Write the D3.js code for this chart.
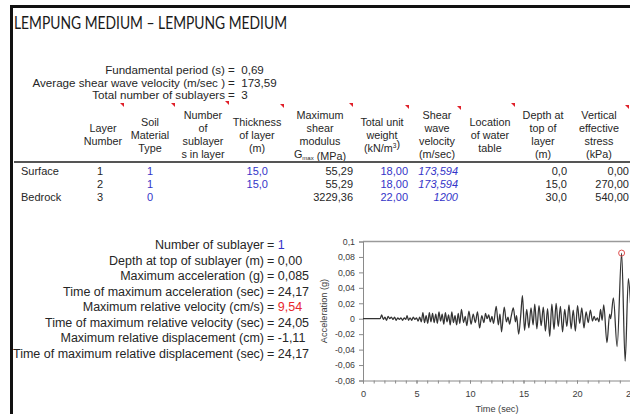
<!DOCTYPE html>
<html>
<head>
<meta charset="utf-8">
<script src="https://cdn.jsdelivr.net/npm/d3@7"></script>
<style>
  body { margin: 0; background: #fff; }
  svg { display: block; font-family: "Liberation Sans", Arial, sans-serif; }
</style>
</head>
<body>
<svg id="sheet" width="630" height="414"></svg>
<script>
// ---- sheet values ----
const title = 'LEMPUNG MEDIUM \u2013 LEMPUNG MEDIUM';

const summaryLabels = ['Fundamental period (s)', 'Average shear wave velocity (m/sec )', 'Total number of  sublayers'];
const summaryValues = ['0,69', '173,59', '3'];

// "_x_" = subscript, "^x^" = superscript
const headers = [
  ['Layer', 'Number'],
  ['Soil', 'Material', 'Type'],
  ['Number', 'of', 'sublayer', 's in layer'],
  ['Thickness', 'of layer', '(m)'],
  ['Maximum', 'shear', 'modulus', 'G_max_ (MPa)'],
  ['Total unit', 'weight', '(kN/m^3^)'],
  ['Shear', 'wave', 'velocity', '(m/sec)'],
  ['Location', 'of water', 'table'],
  ['Depth at', 'top of', 'layer', '(m)'],
  ['Vertical', 'effective', 'stress', '(kPa)'],
];

const rowLabels = ['Surface', '', 'Bedrock'];
const layerNumber = [1, 2, 3];
const soilType = [1, 1, 0];
const thickness = [15, 15, null];
const gmax = [55.29, 55.29, 3229.36];
const unitWeight = [18, 18, 22];
const shearVelocity = [173.594, 173.594, 1200];
const depthTop = [0, 15, 30];
const verticalStress = [0, 270, 540];

const sublayerLabels = [
  'Number of sublayer',
  'Depth at top of sublayer (m)',
  'Maximum acceleration (g)',
  'Time of maximum acceleration (sec)',
  'Maximum relative velocity (cm/s)',
  'Time of maximum relative velocity (sec)',
  'Maximum relative displacement (cm)',
  'Time of maximum relative displacement (sec)',
];
const sublayerValues = ['1', '0,00', '0,085', '24,17', '9,54', '24,05', '-1,11', '24,17'];

// acceleration time history (sec, g)
const timeSec = [
  0, 1.6, 1.75, 1.9, 2.05, 2.2, 2.35, 2.5, 2.65, 2.8, 2.95, 3.1, 3.25, 3.4, 3.55, 3.7, 3.85, 4.0, 4.12, 4.25,
  4.4, 4.55, 4.7, 4.85, 5.0, 5.15, 5.3, 5.45, 5.6, 5.75, 5.9, 6.05, 6.2, 6.35, 6.5, 6.65, 6.8, 6.95, 7.1, 7.25,
  7.4, 7.55, 7.7, 7.85, 8.0, 8.15, 8.3, 8.45, 8.6, 8.75, 8.9, 9.05, 9.2, 9.4, 9.55, 9.7, 9.9, 10.1, 10.3, 10.5,
  10.7, 10.9, 11.1, 11.3, 11.45, 11.6, 11.75, 11.9, 12.05, 12.2, 12.45, 12.65, 12.8, 12.95, 13.2, 13.4, 13.55, 13.7, 13.85, 14.05,
  14.25, 14.35, 14.55, 14.75, 14.9, 15.1, 15.3, 15.5, 15.7, 15.9, 16.05, 16.25, 16.45, 16.65, 16.85, 17.05, 17.25, 17.45, 17.65, 17.85,
  18.05, 18.25, 18.45, 18.65, 18.85, 19.05, 19.25, 19.45, 19.65, 19.85, 20.05, 20.25, 20.45, 20.65, 20.85, 21.05, 21.25, 21.45, 21.6, 21.75,
  21.9, 22.05, 22.2, 22.35, 22.5, 22.8, 23.05, 23.15, 23.4, 23.75, 24.17, 24.5, 24.8, 25.0,
];
const accelG = [
  0, 0, 0.005, -0.001, 0.002, -0.002, 0.003, 0.000, 0.002, -0.001, 0.002, -0.002, 0.001, -0.001, 0.001, -0.002, 0.001, -0.001, 0.004, -0.002,
  0.001, -0.002, 0.002, -0.001, 0.001, -0.003, 0.002, -0.004, 0.008, -0.005, 0.004, -0.006, 0.008, -0.004, 0.007, -0.005, 0.006, -0.006, 0.009, -0.003,
  0.006, -0.007, 0.008, -0.004, 0.005, -0.008, 0.009, -0.005, 0.004, -0.008, 0.007, -0.006, 0.012, -0.005, 0.003, -0.009, 0.010, -0.007, 0.006, -0.005,
  0.009, -0.012, 0.004, -0.005, 0.007, 0.000, 0.005, -0.004, 0.003, -0.006, 0.016, -0.008, 0.006, -0.017, 0.015, -0.004, 0.002, -0.007, 0.003, 0.014,
  -0.004, 0.004, -0.020, 0.006, 0.030, -0.015, 0.012, -0.012, 0.014, -0.008, 0.019, -0.013, 0.017, -0.009, 0.015, -0.016, 0.013, -0.023, 0.019, -0.014,
  0.020, -0.010, 0.016, -0.017, 0.012, -0.010, 0.018, -0.013, 0.011, -0.016, 0.017, -0.006, 0.014, -0.012, 0.009, -0.005, 0.011, -0.003, 0.003, -0.002,
  0.001, -0.004, 0.012, -0.002, 0.018, -0.031, 0.006, 0.000, 0.027, -0.036, 0.085, -0.055, 0.052, 0.020,
];

const yTicks = [-0.08, -0.06, -0.04, -0.02, 0, 0.02, 0.04, 0.06, 0.08, 0.1];
const xTicks = [0, 5, 10, 15, 20, 25];
const xMinorTicks = d3.range(0, 26);

// ---- layout ----
const blue = '#3434c8';
const ink = '#262626';
const comma = (v, d) => v.toFixed(d).replace('.', ',');

const svg = d3.select('#sheet');

svg.append('rect').attr('width', 630).attr('height', 414).attr('fill', '#fff');

// frame
svg.append('path')
  .attr('d', 'M11.5,414 V6.5 H630')
  .attr('fill', 'none')
  .attr('stroke', '#111')
  .attr('stroke-width', 3);

svg.append('text')
  .attr('x', 14)
  .attr('y', 29)
  .attr('font-family', 'Lato, "Open Sans", sans-serif')
  .attr('font-size', 17.5)
  .attr('fill', '#1a1a1a')
  .attr('textLength', 273)
  .attr('lengthAdjust', 'spacingAndGlyphs')
  .text(title);

// summary lines
const summary = svg.append('g').attr('font-size', 11.6).attr('fill', ink);
summaryLabels.forEach((lab, i) => {
  const yy = 74 + i * 12.5;
  summary.append('text').attr('x', 225).attr('y', yy).attr('text-anchor', 'end').text(lab);
  summary.append('text').attr('x', 228).attr('y', yy).attr('xml:space', 'preserve').text(`=  ${summaryValues[i]}`);
});

// header cells
const colCenters = [103, 150, 203, 257, 320, 382, 437, 490, 543, 599];
const head = svg.append('g').attr('font-size', 10.8).attr('fill', ink).attr('text-anchor', 'middle');
headers.forEach((lines, c) => {
  const y0 = 134.5 - (lines.length - 1) * 13 / 2 + 4;
  lines.forEach((ln, k) => {
    const t = head.append('text').attr('x', colCenters[c]).attr('y', y0 + k * 13);
    ln.split(/(_[^_]+_|\^[^^]+\^)/).filter((s) => s).forEach((part) => {
      if (part[0] === '_') {
        t.append('tspan').attr('font-size', 6).attr('dy', 1.5).text(part.slice(1, -1));
        t.append('tspan').attr('dy', -1.5).text('');
      } else if (part[0] === '^') {
        t.append('tspan').attr('font-size', 6.5).attr('dy', -4).text(part.slice(1, -1));
        t.append('tspan').attr('dy', 4).text('');
      } else {
        t.append('tspan').text(part);
      }
    });
  });
});

// comment markers
const cornerMarks = [[123, 104], [174, 104], [228, 102], [283, 105], [352, 104], [408, 106], [460, 107], [514, 104], [628, 106]];
svg.append('g').selectAll('path')
  .data(cornerMarks)
  .join('path')
  .attr('d', (d) => `M${d[0] - 3},${d[1] - 1} L${d[0] + 1},${d[1] - 1} L${d[0] + 1},${d[1] + 3} Z`)
  .attr('fill', '#e0202a');

// header rule
svg.append('line').attr('x1', 14).attr('x2', 630).attr('y1', 162).attr('y2', 162)
  .attr('stroke', '#555').attr('stroke-width', 2);

// body rows
const rowY = (i) => 175 + i * 13;
const cols = [
  { x: 21, anchor: 'start', vals: rowLabels, f: (v) => v },
  { x: 100, anchor: 'middle', vals: layerNumber, f: (v) => v },
  { x: 150, anchor: 'middle', vals: soilType, f: (v) => v, color: blue },
  { x: 268, anchor: 'end', vals: thickness, f: (v) => (v == null ? '' : comma(v, 1)), color: blue },
  { x: 353, anchor: 'end', vals: gmax, f: (v) => comma(v, 2) },
  { x: 408, anchor: 'end', vals: unitWeight, f: (v) => comma(v, 2), color: blue },
  { x: 458, anchor: 'end', vals: shearVelocity, f: (v) => (Number.isInteger(v) ? String(v) : comma(v, 3)), color: blue, italic: true },
  { x: 567, anchor: 'end', vals: depthTop, f: (v) => comma(v, 1) },
  { x: 629, anchor: 'end', vals: verticalStress, f: (v) => comma(v, 2) },
];
const body = svg.append('g').attr('font-size', 11);
cols.forEach((c) => {
  body.append('g')
    .attr('text-anchor', c.anchor)
    .attr('fill', c.color || ink)
    .attr('font-style', c.italic ? 'italic' : null)
    .selectAll('text')
    .data(c.vals)
    .join('text')
    .attr('x', c.x)
    .attr('y', (d, i) => rowY(i))
    .text(c.f);
});

// sublayer block
const valueColors = { 0: blue, 4: '#e8282e' };
const sub = svg.append('g').attr('font-size', 12.5).attr('fill', ink);
sublayerLabels.forEach((lab, i) => {
  const yy = 249 + i * 15.5;
  sub.append('text').attr('x', 264).attr('y', yy).attr('text-anchor', 'end').text(lab);
  const t = sub.append('text').attr('x', 267).attr('y', yy).attr('xml:space', 'preserve');
  t.append('tspan').text('= ');
  t.append('tspan').attr('fill', valueColors[i] || ink).text(sublayerValues[i]);
});

// ---- acceleration chart ----
const x = d3.scaleLinear().domain([0, 25]).range([363, 630.5]);
const y = d3.scaleLinear().domain([-0.08, 0.1]).range([380.5, 241.5]);
const axisColor = '#8a8a8a';
const labelColor = '#3c3c3c';

svg.append('clipPath').attr('id', 'plot')
  .append('rect')
  .attr('x', x(0))
  .attr('y', y(0.1) - 2)
  .attr('width', 630 - x(0))
  .attr('height', y(-0.08) - y(0.1) + 4);

// top border of plot area
svg.append('line')
  .attr('x1', x(0)).attr('x2', 630)
  .attr('y1', y(0.1)).attr('y2', y(0.1))
  .attr('stroke', '#9a9a9a')
  .attr('stroke-width', 1.6);

const yAxis = svg.append('g')
  .attr('transform', `translate(${x(0)},0)`)
  .call(d3.axisLeft(y).tickValues(yTicks).tickSize(4).tickPadding(4)
    .tickFormat((d) => String(+d.toFixed(2)).replace('.', ',')));
yAxis.select('.domain').attr('stroke', axisColor);
yAxis.selectAll('.tick line').attr('stroke', axisColor);
yAxis.selectAll('.tick text')
  .attr('fill', labelColor)
  .attr('font-size', 8.8)
  .attr('font-family', '"Liberation Sans", Arial, sans-serif');

const xMinor = svg.append('g')
  .attr('transform', `translate(0,${y(-0.08)})`)
  .call(d3.axisBottom(x).tickValues(xMinorTicks).tickSize(3).tickFormat(''));
xMinor.select('.domain').remove();
xMinor.selectAll('.tick line').attr('stroke', axisColor);

const xAxis = svg.append('g')
  .attr('transform', `translate(0,${y(-0.08)})`)
  .call(d3.axisBottom(x).tickValues(xTicks).tickSize(3).tickPadding(7).tickSizeOuter(0));
xAxis.select('.domain').attr('stroke', axisColor);
xAxis.selectAll('.tick line').attr('stroke', axisColor);
xAxis.selectAll('.tick text')
  .attr('fill', labelColor)
  .attr('font-size', 9.2)
  .attr('font-family', '"Liberation Sans", Arial, sans-serif');

svg.append('text')
  .attr('x', 497)
  .attr('y', 412)
  .attr('text-anchor', 'middle')
  .attr('font-size', 9.2)
  .attr('fill', labelColor)
  .text('Time (sec)');

svg.append('text')
  .attr('transform', `translate(327,${(y(0.1) + y(-0.08)) / 2}) rotate(-90)`)
  .attr('text-anchor', 'middle')
  .attr('font-size', 9.2)
  .attr('fill', labelColor)
  .text('Acceleration (g)');

const trace = timeSec.map((t, i) => [t, accelG[i]]);
const line = d3.line()
  .x((d) => x(d[0]))
  .y((d) => y(d[1]))
  .curve(d3.curveMonotoneX);

svg.append('path')
  .datum(trace)
  .attr('clip-path', 'url(#plot)')
  .attr('d', line)
  .attr('fill', 'none')
  .attr('stroke', '#333')
  .attr('stroke-width', 1.25);

// circle at maximum acceleration
const peak = trace[d3.maxIndex(trace, (d) => d[1])];
svg.append('circle')
  .attr('cx', x(peak[0]))
  .attr('cy', y(peak[1]))
  .attr('r', 3)
  .attr('fill', 'none')
  .attr('stroke', '#e05050')
  .attr('stroke-width', 1);
</script>
</body>
</html>
